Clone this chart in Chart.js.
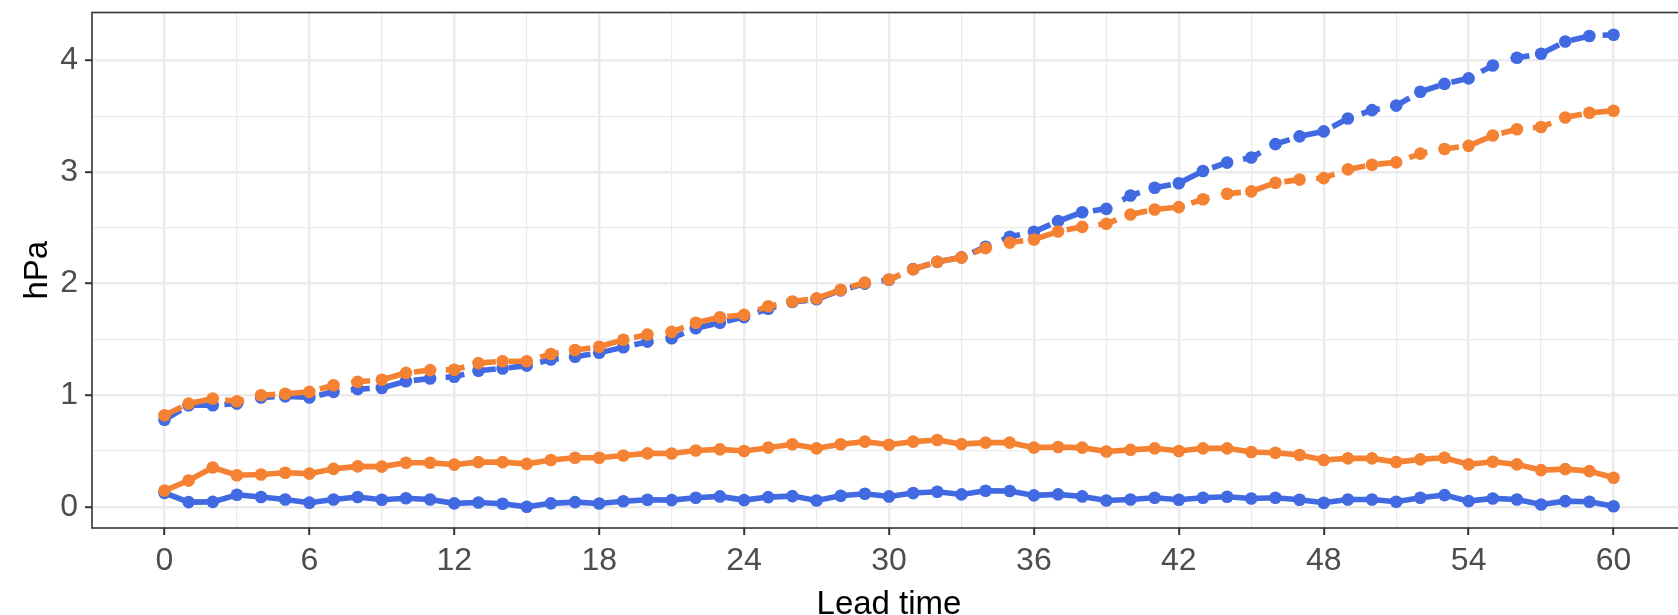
<!DOCTYPE html>
<html>
<head>
<meta charset="utf-8">
<script src="https://cdn.jsdelivr.net/npm/chart.js@4.4.1/dist/chart.umd.min.js"></script>
<style>
  html, body { margin: 0; padding: 0; background: #fff; overflow: hidden; }
  #wrap { position: absolute; left: 0; top: 0; width: 1686px; height: 615px; }
</style>
</head>
<body>
<div id="wrap"><canvas id="skillChart" width="1686" height="615"></canvas></div>
<script>
// --- data ---
const leadTime = [0, 1, 2, 3, 4, 5, 6, 7, 8, 9, 10, 11, 12, 13, 14, 15, 16, 17, 18, 19, 20,
  21, 22, 23, 24, 25, 26, 27, 28, 29, 30, 31, 32, 33, 34, 35, 36, 37, 38, 39, 40,
  41, 42, 43, 44, 45, 46, 47, 48, 49, 50, 51, 52, 53, 54, 55, 56, 57, 58, 59, 60];

const blueDashed = [0.78, 0.91, 0.91, 0.925, 0.98, 0.99, 0.98, 1.03, 1.055, 1.065, 1.125,
  1.15, 1.165, 1.22, 1.24, 1.265, 1.32, 1.345, 1.38, 1.43, 1.48,
  1.51, 1.60, 1.65, 1.70, 1.775, 1.835, 1.86, 1.94, 2.0, 2.035,
  2.13, 2.195, 2.235, 2.33, 2.42, 2.465, 2.56, 2.64, 2.67, 2.79,
  2.86, 2.9, 3.01, 3.085, 3.13, 3.25, 3.32, 3.365, 3.48, 3.555,
  3.595, 3.72, 3.79, 3.84, 3.955, 4.025, 4.06, 4.17, 4.22, 4.23];

const orangeDashed = [0.82, 0.925, 0.97, 0.945, 1.0, 1.013, 1.03, 1.09, 1.12, 1.138, 1.2,
  1.225, 1.228, 1.288, 1.305, 1.305, 1.37, 1.405, 1.435, 1.497, 1.544,
  1.568, 1.649, 1.699, 1.72, 1.797, 1.84, 1.868, 1.945, 2.009, 2.037,
  2.129, 2.196, 2.234, 2.318, 2.368, 2.396, 2.467, 2.509, 2.537, 2.62,
  2.665, 2.686, 2.756, 2.806, 2.827, 2.904, 2.932, 2.946, 3.024, 3.066,
  3.087, 3.165, 3.207, 3.235, 3.327, 3.383, 3.404, 3.489, 3.531, 3.549];

const blueSolid = [0.125, 0.042, 0.044, 0.108, 0.088, 0.066, 0.037, 0.066, 0.088, 0.063, 0.076,
  0.066, 0.031, 0.039, 0.028, 0.0, 0.031, 0.042, 0.029, 0.05, 0.063,
  0.06, 0.081, 0.093, 0.06, 0.087, 0.096, 0.057, 0.099, 0.117, 0.093,
  0.123, 0.135, 0.111, 0.144, 0.141, 0.102, 0.111, 0.093, 0.057, 0.066,
  0.081, 0.063, 0.081, 0.09, 0.075, 0.081, 0.063, 0.036, 0.066, 0.066,
  0.045, 0.081, 0.105, 0.051, 0.075, 0.066, 0.021, 0.051, 0.045, 0.005];

const orangeSolid = [0.145, 0.235, 0.352, 0.283, 0.29, 0.305, 0.297, 0.34, 0.362, 0.36, 0.395,
  0.395, 0.378, 0.40, 0.40, 0.385, 0.42, 0.44, 0.44, 0.46, 0.479,
  0.478, 0.505, 0.515, 0.50, 0.53, 0.56, 0.524, 0.56, 0.584, 0.556,
  0.584, 0.599, 0.562, 0.575, 0.575, 0.53, 0.536, 0.53, 0.496, 0.51,
  0.524, 0.5, 0.524, 0.524, 0.491, 0.485, 0.464, 0.419, 0.434, 0.434,
  0.401, 0.425, 0.44, 0.38, 0.404, 0.38, 0.329, 0.338, 0.32, 0.26];

// axis breaks (major get labels, minor only grid)
const xBreaks = [0, 3, 6, 9, 12, 15, 18, 21, 24, 27, 30, 33, 36, 39, 42, 45, 48, 51, 54, 57, 60];
const xLabelled = [0, 6, 12, 18, 24, 30, 36, 42, 48, 54, 60];
const yBreaks = [0, 0.5, 1, 1.5, 2, 2.5, 3, 3.5, 4];
const yLabelled = [0, 1, 2, 3, 4];

const BLUE = "#4169E1";
const ORANGE = "#F58232";
const GRID = "#EBEBEB";
const FONT = "'Liberation Sans', Arial, sans-serif";

const toPoints = (vals) => vals.map((v, i) => ({ x: leadTime[i], y: v }));

const makeSeries = (label, vals, color, dashed) => ({
  label: label,
  data: toPoints(vals),
  borderColor: color,
  backgroundColor: color,
  pointBackgroundColor: color,
  pointBorderWidth: 0,
  pointRadius: 6.3,
  borderWidth: 5.6,
  borderDash: dashed ? [19, 13] : [],
  tension: 0,
});

// panel border drawn over everything, like ggplot's theme_bw
const panelBorder = {
  id: "panelBorder",
  afterDatasetsDraw(chart) {
    const { ctx, chartArea: a } = chart;
    ctx.save();
    ctx.strokeStyle = "#333333";
    ctx.lineWidth = 1.6;
    ctx.strokeRect(a.left, a.top, a.right - a.left, a.bottom - a.top);
    ctx.restore();
  },
};

const isMajor = (list, v) => list.some((m) => Math.abs(m - v) < 1e-9);

const ctx = document.getElementById("skillChart").getContext("2d");
new Chart(ctx, {
  type: "line",
  data: {
    datasets: [
      makeSeries("orange dashed", orangeDashed, ORANGE, true),
      makeSeries("orange solid", orangeSolid, ORANGE, false),
      makeSeries("blue dashed", blueDashed, BLUE, true),
      makeSeries("blue solid", blueSolid, BLUE, false),
    ],
  },
  options: {
    responsive: false,
    animation: false,
    layout: { autoPadding: false, padding: { top: 12.5, right: 0, bottom: 0, left: 0 } },
    plugins: { legend: { display: false }, tooltip: { enabled: false } },
    scales: {
      x: {
        type: "linear",
        min: -3,
        max: 63,
        afterBuildTicks: (s) => { s.ticks = xBreaks.map((v) => ({ value: v })); },
        afterFit: (s) => {
          s.height = 87;
          s.paddingLeft = 0; s.paddingRight = 0;
        },
        border: { display: false },
        grid: {
          color: GRID,
          lineWidth: (c) => (isMajor(xLabelled, c.tick.value) ? 2.4 : 1.2),
          tickLength: 7,
          tickWidth: 2,
          tickColor: (c) => (isMajor(xLabelled, c.tick.value) ? "#333333" : "rgba(0,0,0,0)"),
        },
        ticks: {
          autoSkip: false,
          maxRotation: 0,
          padding: 7,
          color: "#4D4D4D",
          font: { family: FONT, size: 32 },
          callback: (v) => (isMajor(xLabelled, v) ? String(v) : ""),
        },
        title: {
          display: true,
          text: "Lead time",
          color: "#000000",
          font: { family: FONT, size: 33, lineHeight: 0.62 },
          padding: { top: 0, bottom: 0 },
        },
      },
      y: {
        type: "linear",
        min: -0.19,
        max: 4.43,
        afterBuildTicks: (s) => { s.ticks = yBreaks.map((v) => ({ value: v })); },
        afterFit: (s) => {
          s.width = 92;
          s.paddingTop = 0; s.paddingBottom = 0;
        },
        border: { display: false },
        grid: {
          color: GRID,
          lineWidth: (c) => (isMajor(yLabelled, c.tick.value) ? 2.4 : 1.2),
          tickLength: 7,
          tickWidth: 2,
          tickColor: (c) => (isMajor(yLabelled, c.tick.value) ? "#333333" : "rgba(0,0,0,0)"),
        },
        ticks: {
          autoSkip: false,
          padding: 7,
          color: "#4D4D4D",
          font: { family: FONT, size: 32 },
          callback: (v) => (isMajor(yLabelled, v) ? String(v) : ""),
        },
        title: {
          display: true,
          text: "hPa",
          color: "#000000",
          font: { family: FONT, size: 33, lineHeight: 1.0 },
          padding: { top: 21, bottom: 0 },
        },
      },
    },
  },
  plugins: [panelBorder],
});
</script>
</body>
</html>
